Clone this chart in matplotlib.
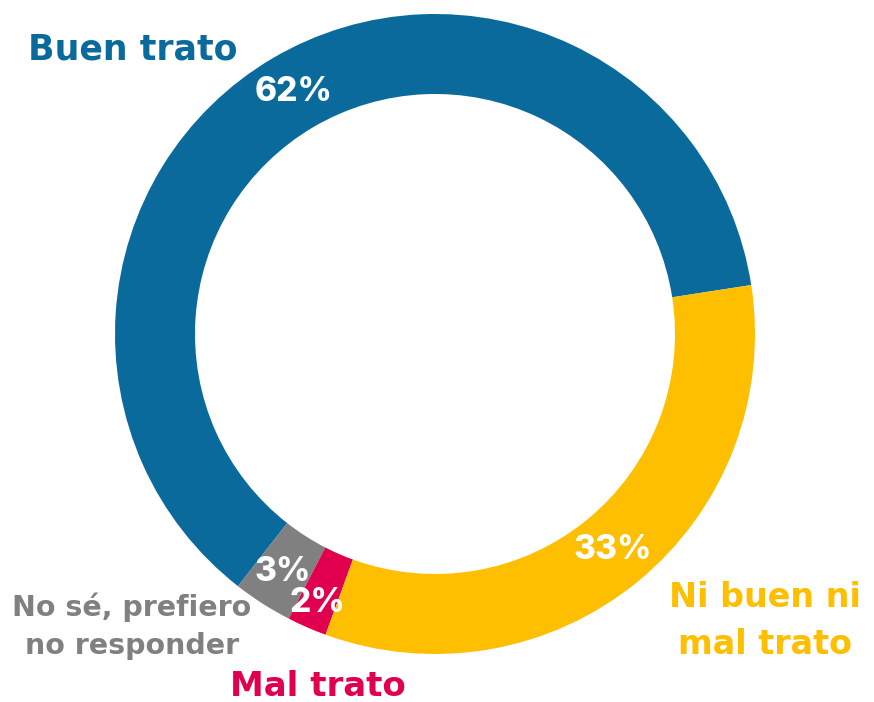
import matplotlib
matplotlib.use("Agg")
import matplotlib.pyplot as plt
import numpy as np

categories = ["Buen trato", "No sé, prefiero\nno responder", "Mal trato", "Ni buen ni\nmal trato"]
values = [62, 3, 2, 33]
pct_labels = ["62%", "3%", "2%", "33%"]
colors = ["#0b6a9c", "#808080", "#e0004d", "#fdbf00"]

W, H = 874, 702
fig = plt.figure(figsize=(W / 100, H / 100), dpi=100)
ax = fig.add_axes([0, 0, 1, 1])

cx, cy, R = 435, H - 334, 320
wedges, _ = ax.pie(values, colors=colors, startangle=8.8, counterclock=True,
                   center=(cx, cy), radius=R,
                   wedgeprops=dict(width=80, edgecolor="none"))
ax.set_xlim(0, W)
ax.set_ylim(0, H)
ax.set_aspect("equal")
ax.axis("off")

# radial offsets (layout) for percentage labels
pct_r = [280, 282, 294, 280]
for w, lab, r in zip(wedges, pct_labels, pct_r):
    ang = np.deg2rad((w.theta1 + w.theta2) / 2)
    ax.text(cx + r * np.cos(ang), cy + r * np.sin(ang), lab, color="white",
            fontsize=24, fontweight="heavy", family="Inter", ha="center", va="center")

label_layout = [(133, 50, 25, 1.2), (132, 626, 20.5, 1.46), (318, 687, 24.5, 1.2), (765, 621, 24, 1.52)]
for cat, col, (px, py, fs, ls) in zip(categories, colors, label_layout):
    ax.text(px, H - py, cat, color=col, fontsize=fs, fontweight="bold", family="DejaVu Sans",
            ha="center", va="center", linespacing=ls)

fig.savefig("out.png", dpi=100)
